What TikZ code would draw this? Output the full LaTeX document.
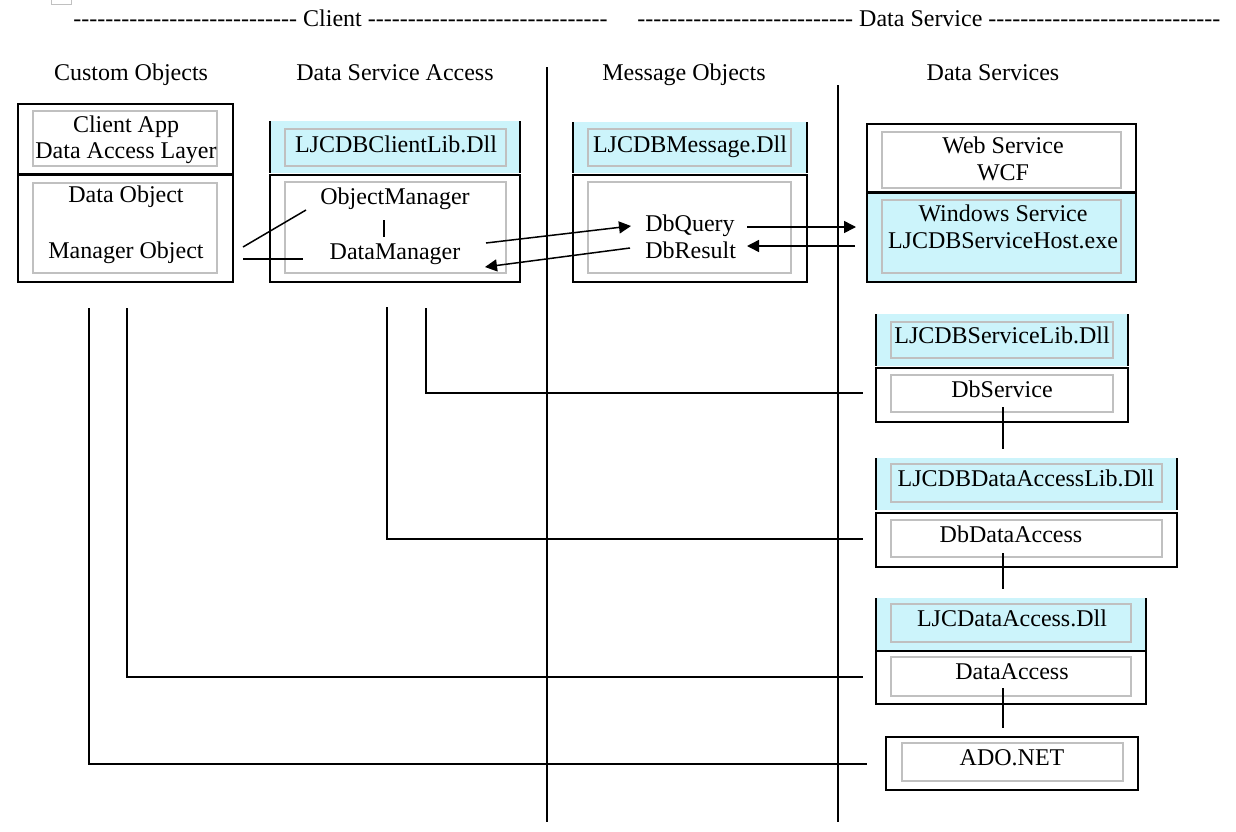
\documentclass[tikz,border=0pt]{standalone}
\usepackage{fontspec}
\setmainfont{Liberation Serif}
\usetikzlibrary{arrows.meta}
\definecolor{cyanfill}{RGB}{204,244,251}
\definecolor{innergray}{RGB}{192,192,192}
\newcommand\mybox[6]{\node[#6, minimum width={(#4-#2)*0.5pt}, minimum height={(#5-#3)*0.5pt}] (#1) at ({(#2+#4)/2},{(#3+#5)/2}) {};}
\newcommand\hyph[1]{\foreach\i in {1,...,#1}{-\kern0pt}}
\begin{document}
\begin{tikzpicture}[x=0.5pt,y=-0.5pt,
  outerbox/.style={draw=black, line width=1pt, fill=white, inner sep=0, outer sep=0},
  cyanhead/.style={fill=cyanfill, inner sep=0, outer sep=0},
  cyanbox/.style={draw=black, line width=1pt, fill=cyanfill, inner sep=0, outer sep=0},
  innerbox/.style={draw=innergray, line width=0.6pt, inner sep=0, outer sep=0},
  txt/.style={font=\fontsize{12}{14}\selectfont, inner sep=0, anchor=base},
  conn/.style={line width=0.75pt},
  sideline/.style={line width=1pt},
  arr/.style={line width=0.75pt, -{Triangle[length=6pt,width=6pt]}},
  sepline/.style={line width=0.75pt}]
\path[use as bounding box, fill=white] (0,0) rectangle (1236,831);
\draw[draw=innergray, line width=0.5pt] (51,0) -- (51,4) -- (71,4) -- (71,0);

% headers
\node[txt, anchor=base west] (hclient) at (73,26) {\hyph{28} Client \hyph{30}};
\node[txt, anchor=base west] (hdataserv) at (637,26) {\hyph{27} Data Service \hyph{29}};
\node[txt] (hco) at (131,80) {Custom Objects};
\node[txt] (hdsa) at (395,80) {Data Service Access};
\node[txt] (hmo) at (684,80) {Message Objects};
\node[txt] (hdsv) at (993,80) {Data Services};

% separators
\coordinate (s1a) at (547,67); \coordinate (s1b) at (547,822);
\coordinate (s2a) at (838,85); \coordinate (s2b) at (838,822);
\draw[sepline] (s1a) -- (s1b);
\draw[sepline] (s2a) -- (s2b);

% client custom objects
\mybox{cah}{18}{104}{233}{174}{outerbox}
\mybox{cahin}{33}{111}{217}{166}{innerbox}
\mybox{dob}{18}{175}{233}{282}{outerbox}
\mybox{dobin}{33}{183}{217}{273}{innerbox}
\node[txt] (t1) at (126,132) {Client App};
\node[txt] (t2) at (126,158) {Data Access Layer};
\node[txt] (t3) at (126,202) {Data Object};
\node[txt] (t4) at (126,258) {Manager Object};

% client lib
\mybox{clh}{270}{121}{520}{173}{cyanhead}
\draw[sideline] (clh.north west) -- (clh.south west) (clh.north east) -- (clh.south east);
\mybox{clhin}{285}{129}{506}{166}{innerbox}
\mybox{clb}{270}{175}{520}{282}{outerbox}
\mybox{clbin}{285}{182}{506}{273}{innerbox}
\node[txt] (t5) at (396,152) {LJCDBClientLib.Dll};
\node[txt] (om) at (395,204) {ObjectManager};
\node[txt] (dm) at (395,259) {DataManager};

% message
\mybox{msh}{573}{122}{807}{173}{cyanhead}
\draw[sideline] (msh.north west) -- (msh.south west) (msh.north east) -- (msh.south east);
\mybox{mshin}{588}{129}{791}{166}{innerbox}
\mybox{msb}{573}{175}{807}{282}{outerbox}
\mybox{msbin}{588}{182}{791}{273}{innerbox}
\node[txt] (t6) at (690,152) {LJCDBMessage.Dll};
\node[txt, anchor=base west] (dq) at (645,231) {DbQuery};
\node[txt, anchor=base west] (dr) at (645,258) {DbResult};

% web service / windows service
\mybox{wcf}{867}{124}{1136}{192}{outerbox}
\mybox{wcfin}{882}{132}{1121}{188}{innerbox}
\mybox{win}{867}{193}{1136}{282}{cyanbox}
\mybox{winin}{882}{200}{1121}{273}{innerbox}
\node[txt] (t7) at (1003,153) {Web Service};
\node[txt] (t8) at (1003,180) {WCF};
\node[txt] (t9) at (1003,221) {Windows Service};
\node[txt] (t10) at (1003,248) {LJCDBServiceHost.exe};

% service lib
\mybox{svh}{876}{314}{1128}{366}{cyanhead}
\draw[sideline] (svh.north west) -- (svh.south west) (svh.north east) -- (svh.south east);
\mybox{svhin}{891}{322}{1113}{358}{innerbox}
\mybox{svb}{876}{368}{1128}{422}{outerbox}
\mybox{svbin}{891}{375}{1113}{412}{innerbox}
\node[txt] (t11) at (1002,343) {LJCDBServiceLib.Dll};
\node[txt] (t12) at (1002,397) {DbService};

% data access lib
\mybox{dah}{876}{458}{1177}{510}{cyanhead}
\draw[sideline] (dah.north west) -- (dah.south west) (dah.north east) -- (dah.south east);
\mybox{dahin}{891}{464}{1162}{502}{innerbox}
\mybox{dab}{876}{513}{1177}{567}{outerbox}
\mybox{dabin}{891}{520}{1162}{557}{innerbox}
\node[txt] (t13) at (1026,486) {LJCDBDataAccessLib.Dll};
\node[txt] (t14) at (1011,542) {DbDataAccess};

% LJC data access
\mybox{lah}{876}{598}{1146}{650}{cyanhead}
\draw[sideline] (lah.north west) -- (lah.south west) (lah.north east) -- (lah.south east);
\mybox{lahin}{891}{604}{1131}{642}{innerbox}
\mybox{lab}{876}{651}{1146}{704}{outerbox}
\mybox{labin}{891}{657}{1131}{696}{innerbox}
\node[txt] (t15) at (1012,626) {LJCDataAccess.Dll};
\node[txt] (t16) at (1012,679) {DataAccess};

% ADO.NET
\mybox{ado}{886}{737}{1138}{790}{outerbox}
\mybox{adoin}{902}{743}{1123}{781}{innerbox}
\node[txt] (t17) at (1012,765) {ADO.NET};

% connectors
\coordinate (c1a) at (243,247); \coordinate (c1b) at (306,210);
\draw[conn] (c1a) -- (c1b);
\coordinate (c2a) at (243,259); \coordinate (c2b) at (303,259);
\draw[conn] (c2a) -- (c2b);
\coordinate (tka) at (384,220); \coordinate (tkb) at (384,237);
\draw[conn] (tka) -- (tkb);
\coordinate (a1a) at (486,243); \coordinate (a1b) at (631,226);
\draw[arr] (a1a) -- (a1b);
\coordinate (a2a) at (630,248); \coordinate (a2b) at (485,267);
\draw[arr] (a2a) -- (a2b);
\coordinate (a3a) at (747,227); \coordinate (a3b) at (856,227);
\draw[arr] (a3a) -- (a3b);
\coordinate (a4a) at (855,246); \coordinate (a4b) at (747,246);
\draw[arr] (a4a) -- (a4b);

\coordinate (l1a) at (426,308); \coordinate (l1b) at (863,393);
\draw[conn] (l1a) |- (l1b);
\coordinate (l2a) at (387,307); \coordinate (l2b) at (863,539);
\draw[conn] (l2a) |- (l2b);
\coordinate (l3a) at (127,308); \coordinate (l3b) at (863,677);
\draw[conn] (l3a) |- (l3b);
\coordinate (l4a) at (89,308); \coordinate (l4b) at (867,764);
\draw[conn] (l4a) |- (l4b);

\coordinate (v1a) at (1003,407); \coordinate (v1b) at (1003,449);
\draw[conn] (v1a) -- (v1b);
\coordinate (v2a) at (1003,553); \coordinate (v2b) at (1003,589);
\draw[conn] (v2a) -- (v2b);
\coordinate (v3a) at (1003,688); \coordinate (v3b) at (1003,728);
\draw[conn] (v3a) -- (v3b);
\end{tikzpicture}
\end{document}
